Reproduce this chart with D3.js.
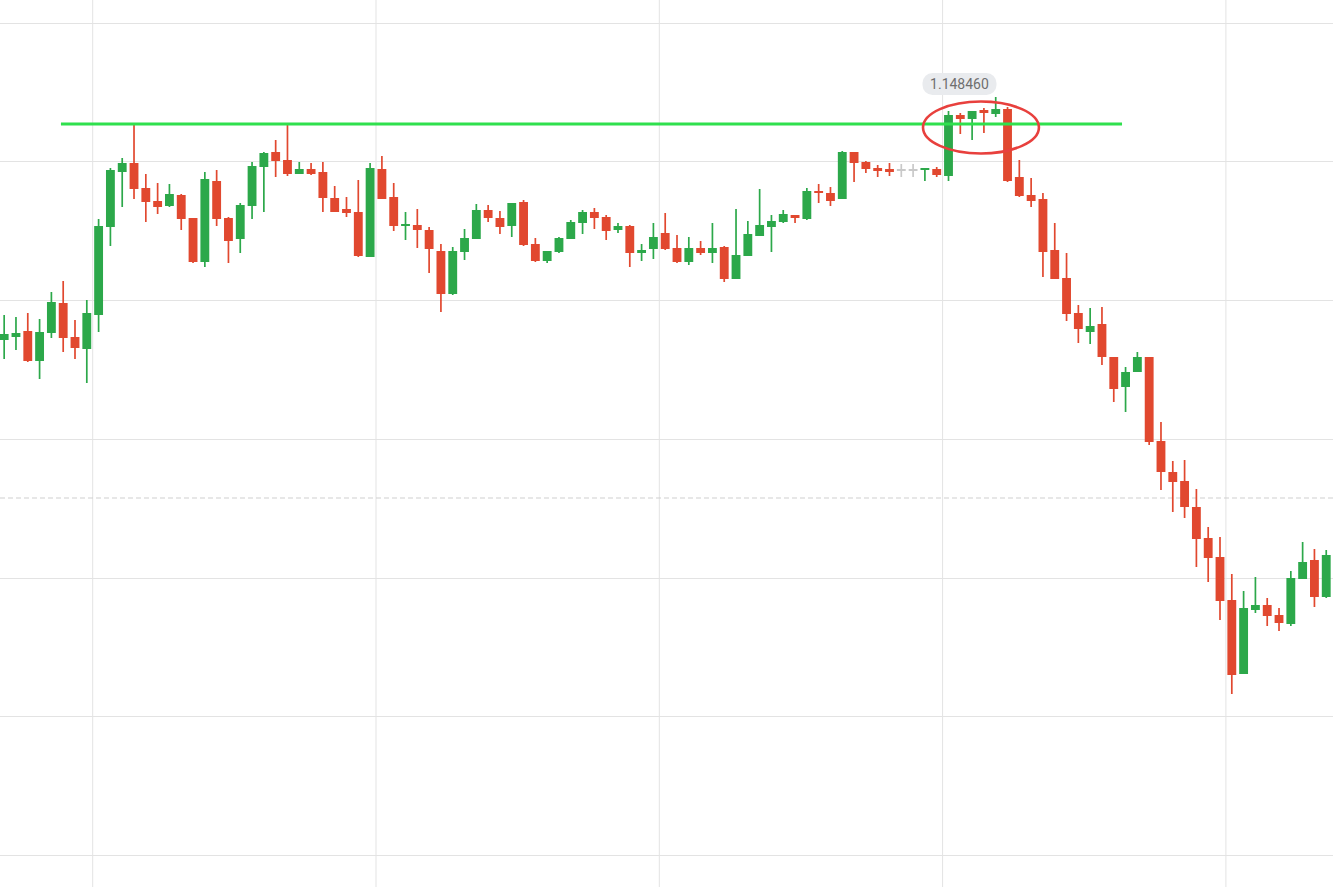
<!DOCTYPE html>
<html><head><meta charset="utf-8">
<script src="https://cdn.jsdelivr.net/npm/d3@7"></script>
<style>html,body{margin:0;padding:0;background:#fff;overflow:hidden}</style>
</head><body><svg id="chart" width="1333" height="887"></svg>
<script>
const opens = [1.14360,1.14366,1.14378,1.14318,1.14374,1.14434,1.14366,1.14342,1.14410,1.14586,1.14696,1.14714,1.14664,1.14638,1.14628,1.14650,1.14604,1.14516,1.14678,1.14604,1.14562,1.14628,1.14706,1.14736,1.14720,1.14692,1.14702,1.14696,1.14644,1.14622,1.14616,1.14526,1.14702,1.14646,1.14588,1.14590,1.14580,1.14538,1.14452,1.14536,1.14562,1.14620,1.14604,1.14588,1.14636,1.14552,1.14518,1.14536,1.14562,1.14594,1.14616,1.14606,1.14580,1.14588,1.14534,1.14542,1.14574,1.14544,1.14516,1.14544,1.14534,1.14546,1.14482,1.14528,1.14568,1.14586,1.14596,1.14610,1.14602,1.14658,1.14654,1.14642,1.14736,1.14716,1.14704,1.14702,1.14700,1.14700,1.14698,1.14702,1.14688,1.14810,1.14802,1.14820,1.14812,1.14822,1.14686,1.14650,1.14642,1.14540,1.14484,1.14414,1.14376,1.14392,1.14326,1.14266,1.14296,1.14326,1.14158,1.14096,1.14078,1.14026,1.13964,1.13926,1.13840,1.13692,1.13820,1.13830,1.13810,1.13792,1.13882,1.13920,1.13846];
const highs = [1.14410,1.14406,1.14414,1.14402,1.14456,1.14478,1.14400,1.14440,1.14602,1.14704,1.14724,1.14790,1.14692,1.14674,1.14672,1.14652,1.14604,1.14696,1.14700,1.14606,1.14634,1.14716,1.14736,1.14760,1.14790,1.14716,1.14714,1.14716,1.14668,1.14646,1.14680,1.14714,1.14728,1.14674,1.14616,1.14622,1.14586,1.14552,1.14546,1.14582,1.14632,1.14630,1.14618,1.14634,1.14640,1.14564,1.14538,1.14566,1.14600,1.14620,1.14624,1.14610,1.14594,1.14590,1.14552,1.14594,1.14614,1.14570,1.14566,1.14558,1.14594,1.14548,1.14622,1.14598,1.14662,1.14610,1.14620,1.14610,1.14664,1.14672,1.14666,1.14738,1.14736,1.14718,1.14710,1.14714,1.14712,1.14712,1.14702,1.14706,1.14818,1.14814,1.14818,1.14824,1.14846,1.14826,1.14720,1.14684,1.14654,1.14594,1.14534,1.14430,1.14424,1.14426,1.14326,1.14306,1.14336,1.14326,1.14196,1.14118,1.14120,1.14062,1.13986,1.13966,1.13892,1.13858,1.13886,1.13844,1.13824,1.13898,1.13956,1.13942,1.13940];
const lows = [1.14322,1.14340,1.14316,1.14282,1.14364,1.14336,1.14322,1.14274,1.14376,1.14548,1.14626,1.14642,1.14596,1.14612,1.14626,1.14580,1.14514,1.14506,1.14588,1.14514,1.14534,1.14602,1.14616,1.14686,1.14688,1.14692,1.14690,1.14616,1.14616,1.14606,1.14526,1.14526,1.14642,1.14578,1.14560,1.14544,1.14494,1.14416,1.14450,1.14520,1.14562,1.14596,1.14572,1.14566,1.14548,1.14516,1.14514,1.14534,1.14562,1.14572,1.14582,1.14560,1.14574,1.14506,1.14518,1.14522,1.14540,1.14514,1.14510,1.14530,1.14514,1.14476,1.14482,1.14528,1.14568,1.14536,1.14594,1.14594,1.14600,1.14634,1.14628,1.14642,1.14676,1.14694,1.14686,1.14688,1.14686,1.14686,1.14678,1.14686,1.14678,1.14772,1.14760,1.14774,1.14806,1.14676,1.14646,1.14626,1.14486,1.14482,1.14398,1.14354,1.14352,1.14310,1.14236,1.14216,1.14296,1.14150,1.14060,1.14016,1.14004,1.13906,1.13876,1.13800,1.13652,1.13692,1.13814,1.13788,1.13778,1.13788,1.13882,1.13826,1.13844];
const closes = [1.14372,1.14374,1.14318,1.14376,1.14436,1.14364,1.14344,1.14414,1.14588,1.14700,1.14714,1.14662,1.14636,1.14626,1.14652,1.14602,1.14516,1.14682,1.14602,1.14558,1.14630,1.14708,1.14734,1.14718,1.14692,1.14702,1.14692,1.14644,1.14616,1.14614,1.14528,1.14704,1.14642,1.14588,1.14592,1.14580,1.14542,1.14452,1.14538,1.14564,1.14620,1.14604,1.14586,1.14634,1.14550,1.14518,1.14538,1.14564,1.14596,1.14616,1.14604,1.14578,1.14588,1.14534,1.14540,1.14566,1.14542,1.14516,1.14544,1.14534,1.14544,1.14482,1.14530,1.14572,1.14590,1.14598,1.14612,1.14604,1.14658,1.14654,1.14638,1.14736,1.14714,1.14702,1.14698,1.14696,1.14700,1.14700,1.14702,1.14690,1.14810,1.14802,1.14818,1.14814,1.14822,1.14678,1.14648,1.14638,1.14536,1.14482,1.14412,1.14382,1.14388,1.14326,1.14262,1.14296,1.14326,1.14156,1.14096,1.14076,1.14026,1.13962,1.13924,1.13838,1.13690,1.13824,1.13830,1.13808,1.13794,1.13884,1.13916,1.13846,1.13930];

const gridPrices = [1.14994,1.14718,1.14440,1.14162,1.13884,1.13608,1.13330];
const sessionStarts = [8,32,56,80,104];
const resistance = {price:1.14792, from:4.81, to:94.70};
const currentPrice = 1.14044;
const highlight = {center:82.75, price:1.14785, halfSpan:4.91, halfPrice:0.00052};

const W = 1333, H = 887;
const svg = d3.select("#chart");
const idx = d3.range(opens.length);

const step = 283.3/24;
const x = d3.scaleBand().domain(idx).range([4.17 - step/2, 4.17 - step/2 + step*opens.length]).paddingInner(0.25).paddingOuter(0.125);
const xi = d3.scaleLinear().domain([0,1]).range([x(0)+x.bandwidth()/2, x(1)+x.bandwidth()/2]);
const y = d3.scaleLinear().domain([1.15040, 1.15040 - 0.00002*H]).range([0, H]);

// grid
svg.append("g").selectAll("line").data(gridPrices).join("line")
  .attr("x1",0).attr("x2",W).attr("y1",d=>Math.round(y(d))+0.5).attr("y2",d=>Math.round(y(d))+0.5)
  .attr("stroke","#e3e3e3").attr("stroke-width",1);
svg.append("g").selectAll("line").data(sessionStarts).join("line")
  .attr("x1",d=>xi(d-0.5)).attr("x2",d=>xi(d-0.5)).attr("y1",0).attr("y2",H)
  .attr("stroke","#e3e3e3").attr("stroke-width",1);

// current price dashed line
svg.append("line").attr("x1",0).attr("x2",W).attr("y1",y(currentPrice)).attr("y2",y(currentPrice))
  .attr("stroke","#cfcfcf").attr("stroke-width",1).attr("stroke-dasharray","5,3");

const GREEN = "#2ca84a", RED = "#e1482f", GRAY = "#c9c9c9";
const col = i => closes[i] > opens[i] ? GREEN : (closes[i] < opens[i] ? RED : GRAY);

const g = svg.append("g");
g.selectAll("line.wick").data(idx).join("line").attr("class","wick")
  .attr("x1",i=>xi(i)).attr("x2",i=>xi(i))
  .attr("y1",i=>y(highs[i])).attr("y2",i=>y(lows[i]))
  .attr("stroke",col).attr("stroke-width",1.7);
g.selectAll("rect.body").data(idx).join("rect").attr("class","body")
  .attr("x",i=>x(i)).attr("width",x.bandwidth())
  .attr("y",i=>Math.min(y(opens[i]),y(closes[i])) - (Math.abs(y(opens[i])-y(closes[i]))<2 ? 1 : 0))
  .attr("height",i=>Math.max(2,Math.abs(y(opens[i])-y(closes[i]))))
  .attr("fill",col);

// resistance line
svg.append("line").attr("x1",xi(resistance.from)).attr("x2",xi(resistance.to))
  .attr("y1",y(resistance.price)).attr("y2",y(resistance.price))
  .attr("stroke","#2fe04d").attr("stroke-width",3);

// highlight ellipse
svg.append("ellipse")
  .attr("cx",xi(highlight.center)).attr("cy",y(highlight.price))
  .attr("rx",xi(highlight.halfSpan)-xi(0)).attr("ry",y(highlight.price-highlight.halfPrice)-y(highlight.price))
  .attr("fill","none").attr("stroke","#e8403d").attr("stroke-width",2.6);

// max high label
const maxHigh = d3.max(highs);
const maxIdx = highs.indexOf(maxHigh);
const lx = xi(maxIdx - 3.07), ly = y(maxHigh) - 13;
svg.append("rect").attr("x",lx-37).attr("y",ly-11).attr("width",74).attr("height",22).attr("rx",10)
  .attr("fill","#e9ebee");
svg.append("text").attr("x",lx).attr("y",ly).attr("dy","0.35em").attr("text-anchor","middle")
  .attr("font-family","Roboto, 'Open Sans', sans-serif").attr("font-size",14).attr("fill","#6f6f6f")
  .text(d3.format(".6f")(maxHigh));
</script></body></html>
